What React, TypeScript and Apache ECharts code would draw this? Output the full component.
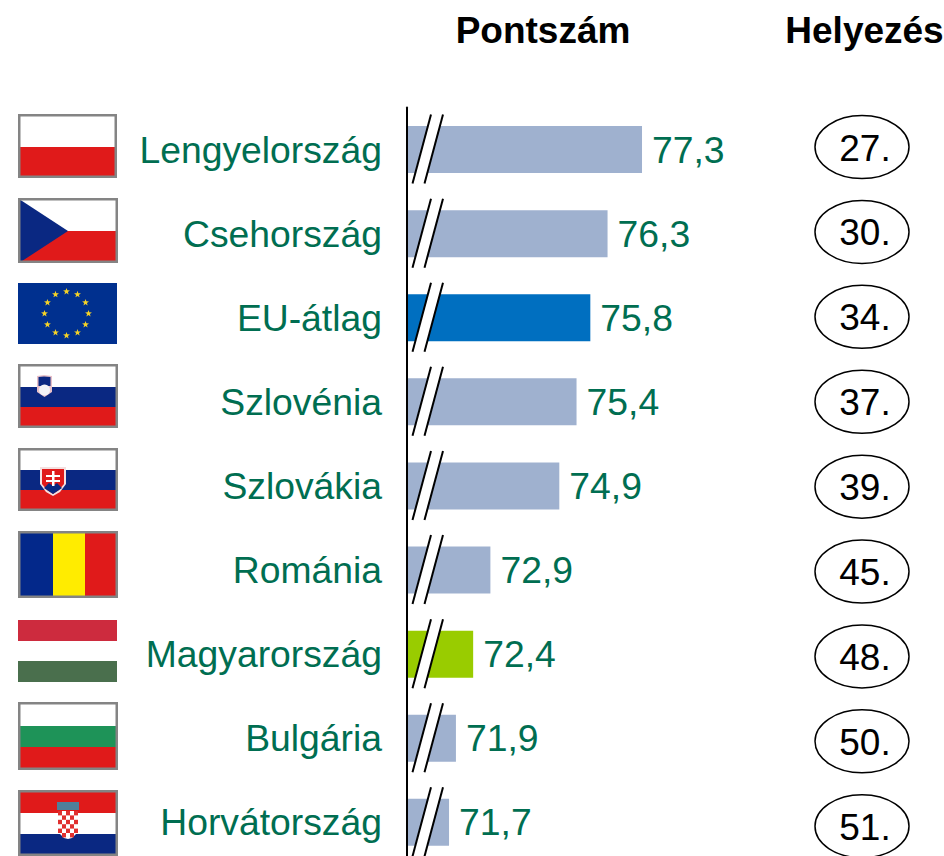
import React, { useEffect, useRef } from "react";
import * as echarts from "echarts";

const countries = ["Lengyelország", "Csehország", "EU-átlag", "Szlovénia", "Szlovákia", "Románia", "Magyarország", "Bulgária", "Horvátország"];
const scores = [77.3, 76.3, 75.8, 75.4, 74.9, 72.9, 72.4, 71.9, 71.7];
const ranks = ["27.", "30.", "34.", "37.", "39.", "45.", "48.", "50.", "51."];
const barColors = ["#9fb1cf", "#9fb1cf", "#006fc0", "#9fb1cf", "#9fb1cf", "#9fb1cf", "#99cc00", "#9fb1cf", "#9fb1cf"];

const AXIS_MIN = 70.48;
const PX_PER_UNIT = 34.46;
const GRID_LEFT = 407;
const GRID_TOP = 107.5;
const BAND = 84.1;
const GREEN = "#006e51";
const FONT = '"Liberation Sans", Arial, sans-serif';
const RED = "#e01a1a";
const NAVY = "#0a2882";
const BORDER = "#848484";

const rect = (x: number, y: number, w: number, h: number, fill: string, extra: any = {}) => ({
  type: "rect", shape: { x, y, width: w, height: h }, style: { fill, ...extra }, silent: true,
});

const framed = (x: number, y: number, w: number, h: number, inner: any[]) => [
  rect(x, y, w, h, "#fff"),
  ...inner,
  rect(x + 1.25, y + 1.25, w - 2.5, h - 2.5, "none", { stroke: BORDER, lineWidth: 2.5 }),
];

const starPoints = (cx: number, cy: number, r: number) => {
  const pts: number[][] = [];
  for (let i = 0; i < 10; i++) {
    const rad = i % 2 ? r * 0.4 : r;
    const a = -Math.PI / 2 + (i * Math.PI) / 5;
    pts.push([cx + rad * Math.cos(a), cy + rad * Math.sin(a)]);
  }
  return pts;
};

const poly = (points: number[][], fill: string) => ({ type: "polygon", shape: { points }, style: { fill }, silent: true });

const euStars = () => {
  const out: any[] = [];
  for (let i = 0; i < 12; i++) {
    const a = (i * Math.PI) / 6;
    out.push(poly(starPoints(66.5 + 22 * Math.sin(a), 313.5 - 22 * Math.cos(a), 3.6), "#f5d327"));
  }
  return out;
};

const croatiaChecks = () => {
  const out: any[] = [poly([[58, 811], [78, 811], [78, 832], [72, 838], [68, 839], [64, 838], [58, 832]], "#fff")];
  for (let r = 0; r < 6; r++) for (let c = 0; c < 5; c++) {
    if ((r + c) % 2 === 0) out.push(rect(58 + c * 4, 811 + r * 4.4, 4, 4.4, "#e0302f"));
  }
  return out;
};

const flags = (): any[] => [
  ...framed(18, 114, 99, 64, [rect(18, 147, 99, 31, RED)]),
  ...framed(18, 198, 100, 65, [rect(18, 231, 100, 32, RED), poly([[19, 199], [68, 231], [19, 263]], NAVY)]),
  rect(18, 283, 99, 61, "#00308f"),
  ...euStars(),
  ...framed(18, 364, 100, 64, [
    rect(18, 387, 100, 20, NAVY), rect(18, 407, 100, 21, RED),
    poly([[37, 376], [44, 375], [52, 376], [52, 392], [44.5, 397], [37, 392]], "#e8c0c8"),
    poly([[38.5, 377], [44, 376.5], [50.5, 377], [50.5, 386], [38.5, 386]], NAVY),
    { type: "circle", shape: { cx: 44.5, cy: 390, r: 5.5 }, style: { fill: "#f2f3f7" }, silent: true },
  ]),
  ...framed(18, 448, 100, 63, [
    rect(18, 470, 100, 20, NAVY), rect(18, 490, 100, 21, RED),
    poly([[40, 467], [66, 467], [66, 484], [60, 492], [53, 496], [46, 492], [40, 484]], "#f4e0e0"),
    poly([[42, 469], [64, 469], [64, 484], [59, 490], [53, 494], [47, 490], [42, 484]], RED),
    poly([[44, 488], [49, 483], [53, 486], [57, 483], [62, 488], [53, 494]], NAVY),
    rect(52, 471, 2.5, 15, "#fff"), rect(46, 475, 14, 2, "#fff"), rect(46, 480, 14, 2, "#fff"),
  ]),
  ...framed(18, 531, 100, 67, [rect(18, 531, 35, 67, "#03288a"), rect(53, 531, 32, 67, "#ffec00"), rect(85, 531, 33, 67, RED)]),
  rect(18, 620, 99, 21, "#cd2b3e"), rect(18, 661, 99, 21, "#4a6f4d"),
  ...framed(18, 702, 100, 68, [rect(18, 726, 100, 21, "#1e9358"), rect(18, 747, 100, 23, RED)]),
  ...framed(18, 790, 100, 66, [
    rect(18, 790, 100, 23, RED), rect(18, 834, 100, 22, NAVY),
    rect(57, 802, 22, 8, "#4f7f9a"),
    ...croatiaChecks(),
  ]),
  { type: "text", x: 543, y: 30, style: { text: "Pontszám", fontFamily: FONT, fontSize: 37, fontWeight: "bold", fill: "#000", align: "center", verticalAlign: "middle" }, silent: true },
  { type: "text", x: 864.5, y: 30, style: { text: "Helyezés", fontFamily: FONT, fontSize: 37, fontWeight: "bold", fill: "#000", align: "center", verticalAlign: "middle" }, silent: true },
];

export default function App() {
  const ref = useRef<HTMLDivElement>(null);
  useEffect(() => {
    const chart = echarts.init(ref.current!, undefined, { renderer: "svg" });
    chart.setOption({
      animation: false,
      backgroundColor: "#fff",
      grid: { left: GRID_LEFT, top: GRID_TOP, width: 537, height: BAND * countries.length, containLabel: false },
      xAxis: { type: "value", min: AXIS_MIN, max: AXIS_MIN + 537 / PX_PER_UNIT, show: false },
      yAxis: {
        type: "category",
        inverse: true,
        data: countries,
        axisTick: { show: false },
        axisLine: { show: true, lineStyle: { color: "#000", width: 2 } },
        axisLabel: { color: GREEN, fontFamily: FONT, fontSize: 37.3, margin: 25, align: "right", verticalAlign: "middle", padding: [3, 0, 0, 0] },
        z: 5,
      },
      series: [
        {
          type: "bar",
          barWidth: 47,
          data: scores.map((v, i) => ({ value: v, itemStyle: { color: barColors[i] } })),
          label: {
            show: true, position: "right", distance: 10, color: GREEN, fontFamily: FONT, fontSize: 37.3, padding: [3, 0, 0, 0],
            formatter: (p: any) => String(p.value.toFixed(1)).replace(".", ","),
          },
        },
        {
          type: "custom",
          z: 4,
          data: scores.map((_, i) => [AXIS_MIN, i]),
          renderItem: (_p: any, api: any) => {
            const [x, y] = api.coord([AXIS_MIN, api.value(1)]);
            const x1b = x + 5.5, x1t = x + 24, yb = y + 34, yt = y - 35;
            const g = 12;
            return {
              type: "group",
              children: [
                { type: "polygon", shape: { points: [[x1b, yb], [x1t, yt], [x1t + g, yt], [x1b + g, yb]] }, style: { fill: "#fff" } },
                { type: "line", shape: { x1: x1b, y1: yb, x2: x1t, y2: yt }, style: { stroke: "#000", lineWidth: 2 } },
                { type: "line", shape: { x1: x1b + g, y1: yb, x2: x1t + g, y2: yt }, style: { stroke: "#000", lineWidth: 2 } },
              ],
            };
          },
        },
        {
          type: "custom",
          z: 4,
          data: ranks.map((r, i) => [AXIS_MIN, i, r]),
          dimensions: ["x", "y", { name: "rank", type: "ordinal" }],
          renderItem: (_p: any, api: any) => {
            const i = api.value(1);
            const y = api.coord([AXIS_MIN, i])[1] - 2.5 + i * 0.8;
            return {
              type: "group",
              children: [
                { type: "ellipse", shape: { cx: 862, cy: y, rx: 47, ry: 31.5 }, style: { fill: "#fff", stroke: "#000", lineWidth: 1.5 } },
                { type: "text", x: 865, y: y + 1, style: { text: ranks[i], fontFamily: FONT, fontSize: 37, fill: "#000", align: "center", verticalAlign: "middle" } },
              ],
            };
          },
        },
      ],
      graphic: { elements: flags() },
    });
    return () => chart.dispose();
  }, []);
  return (
    <div style={{ position: "fixed", left: 0, top: 0, width: 944, height: 856, overflow: "hidden" }}>
      <div ref={ref} style={{ width: 944, height: 900 }} />
    </div>
  );
}
